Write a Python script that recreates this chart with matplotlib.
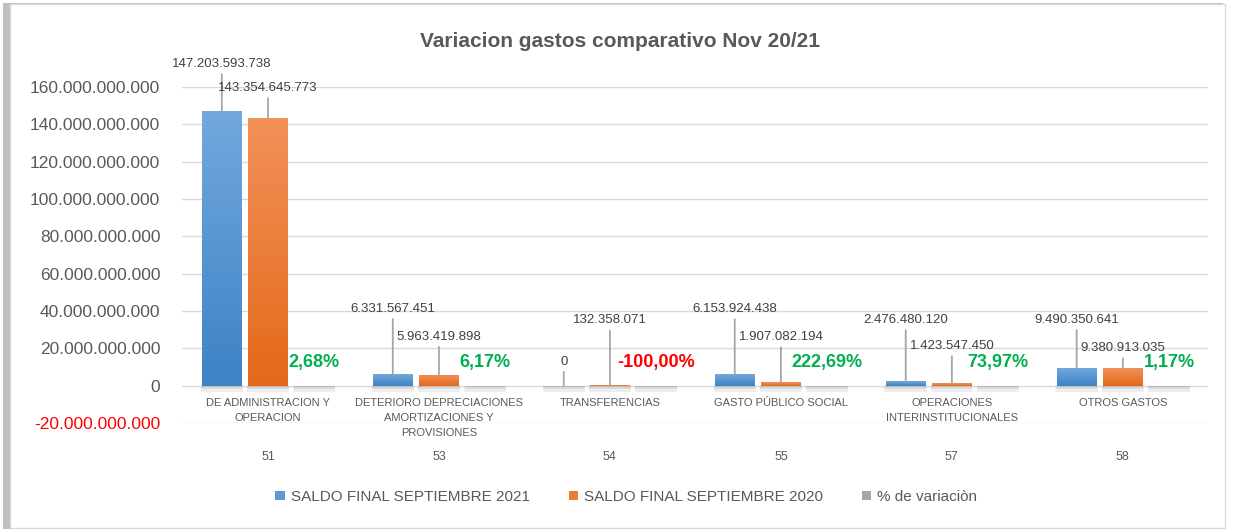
import matplotlib.pyplot as plt
from matplotlib.patches import Rectangle
from matplotlib.ticker import FuncFormatter
from matplotlib.transforms import blended_transform_factory
from matplotlib.colors import LinearSegmentedColormap
import numpy as np

plt.rcParams['font.family'] = ['Liberation Sans', 'DejaVu Sans']

codes = ['51', '53', '54', '55', '57', '58']
names = ['DE ADMINISTRACION Y\nOPERACION',
         'DETERIORO DEPRECIACIONES\nAMORTIZACIONES Y\nPROVISIONES',
         'TRANSFERENCIAS',
         'GASTO PÚBLICO SOCIAL',
         'OPERACIONES\nINTERINSTITUCIONALES',
         'OTROS GASTOS']
saldo_2021 = [147203593738, 6331567451, 0, 6153924438, 2476480120, 9490350641]
saldo_2020 = [143354645773, 5963419898, 132358071, 1907082194, 1423547450, 9380913035]
variacion = [0.0268, 0.0617, -1.0, 2.2269, 0.7397, 0.0117]

# label offsets above bar tops (pixels)
off_2021 = [47, 65, 24, 65, 61, 48]
off_2020 = [30, 38, 65, 45, 37, 20]


def miles(v, pos=None):
    return f"{int(round(v)):,}".replace(',', '.')


def pct(v):
    return f"{v * 100:.2f}%".replace('.', ',')


fig = plt.figure(figsize=(12.33, 5.31), dpi=100)

# chart frame with a soft shadow on the left
fig.patches.append(Rectangle((3 / 1233, 2 / 531), 1220 / 1233, 526 / 531,
                             transform=fig.transFigure, facecolor='#bfbfbf',
                             edgecolor='none', zorder=-3))
fig.patches.append(Rectangle((10 / 1233, 3 / 531), 1215 / 1233, 524 / 531,
                             transform=fig.transFigure, facecolor='white',
                             edgecolor='#d9d9d9', lw=1, zorder=-2))

ax = fig.add_axes([0.148, 0.2034, 0.832, 0.6328])
ax.set_facecolor('none')

x = np.arange(len(codes))
w = 0.23
d = 0.27
c21, c20, cp = '#5B9BD5', '#ED7D31', '#A5A5A5'

b1 = ax.bar(x - d, saldo_2021, w, color=c21, label='SALDO FINAL SEPTIEMBRE 2021', zorder=3)
b2 = ax.bar(x, saldo_2020, w, color=c20, label='SALDO FINAL SEPTIEMBRE 2020', zorder=3)
b3 = ax.bar(x + d, variacion, w, color=cp, label='% de variaciòn', zorder=3)

ax.set_ylim(-20e9, 160e9)
ax.set_xlim(-0.5, len(codes) - 0.5)

# vertical gradient fill like the original chart
grads = [(b1, ['#3D83C6', '#72A8DD']), (b2, ['#E4691A', '#F39159'])]
for bars, cols in grads:
    cmap = LinearSegmentedColormap.from_list('g', cols)
    for r in bars:
        if r.get_height() <= 0:
            continue
        x0, y0 = r.get_x(), r.get_y()
        im = ax.imshow(np.linspace(1, 0, 64).reshape(-1, 1), cmap=cmap, aspect='auto',
                       extent=(x0, x0 + r.get_width(), y0, y0 + r.get_height()),
                       zorder=3.1)
        im.set_clip_path(r)

# soft shadow under each bar
for bx in (x - d, x, x + d):
    for k, a in ((1.0, 0.10), (0.6, 0.12)):
        ax.bar(bx, [-3.2e9 * k] * len(codes), w * (1.08 - 0.08 * (1 - k)),
               color='#606060', alpha=a, zorder=2, linewidth=0)

ax.set_aspect('auto')
ax.set_yticks(np.arange(-20e9, 160e9 + 1, 20e9))
ax.yaxis.set_major_formatter(FuncFormatter(miles))
ax.grid(axis='y', color='#d9d9d9', lw=1, zorder=0)
for s in ax.spines.values():
    s.set_visible(False)
ax.spines['bottom'].set_position(('data', 0))
ax.tick_params(axis='y', length=0, labelsize=12.5, labelcolor='#595959', pad=16)
for t in ax.get_yticklabels():
    if t.get_text().startswith('-'):
        t.set_color('#FF0000')

ax.set_xticks(x)
ax.set_xticklabels(names, fontsize=8, color='#595959', linespacing=1.6)
ax.tick_params(axis='x', length=0, pad=9)

tr = blended_transform_factory(ax.transData, ax.transAxes)
for i, c in enumerate(codes):
    ax.text(x[i], -0.101, c, transform=tr, ha='center', va='center',
            fontsize=9, color='#595959')

lead = dict(arrowstyle='-', color='#a6a6a6', lw=1.3, shrinkA=1, shrinkB=0)
for i in range(len(codes)):
    ax.annotate(miles(saldo_2021[i]), (x[i] - d, saldo_2021[i]),
                xytext=(0, off_2021[i]), textcoords='offset pixels',
                ha='center', va='center', fontsize=9.5, color='#404040',
                arrowprops=lead, zorder=4)
    ax.annotate(miles(saldo_2020[i]), (x[i], saldo_2020[i]),
                xytext=(0, off_2020[i]), textcoords='offset pixels',
                ha='center', va='center', fontsize=9.5, color='#404040',
                arrowprops=lead, zorder=4)
    col = '#00B050' if variacion[i] >= 0 else '#FF0000'
    ax.annotate(pct(variacion[i]), (x[i] + d, 0),
                xytext=(0, 23), textcoords='offset pixels',
                ha='center', va='center', fontsize=13, fontweight='bold',
                color=col, zorder=4)

fig.text(0.503, 0.922, 'Variacion gastos comparativo Nov 20/21',
         ha='center', va='center', fontsize=15, fontweight='bold', color='#595959')

fig.legend(handles=[b1, b2, b3], loc='center', bbox_to_anchor=(0.508, 0.064),
           ncol=3, frameon=False, fontsize=11, handlelength=0.6, handleheight=0.6,
           handletextpad=0.4, columnspacing=2.55, labelcolor='#595959')

fig.savefig('out.png', dpi=100)
